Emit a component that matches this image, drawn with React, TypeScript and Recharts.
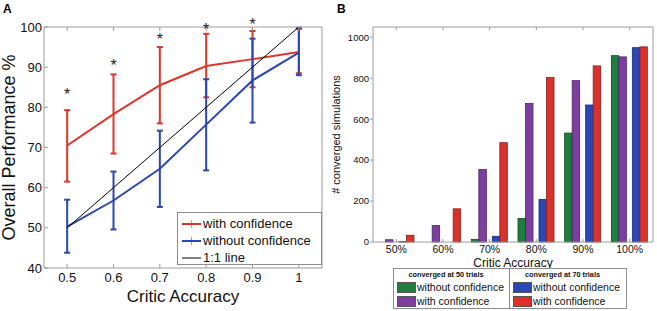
import React from "react";
import {
  ComposedChart,
  Line,
  ErrorBar,
  ReferenceDot,
  BarChart,
  Bar,
  XAxis,
  YAxis,
  Label,
  Legend,
} from "recharts";

const FONT = "'Liberation Sans', Arial, sans-serif";

// panel A
const accuracy = [0.5, 0.6, 0.7, 0.8, 0.9, 1];
const withConfMean = [70.5, 78.3, 85.5, 90.3, 92.0, 93.8];
const withConfLow = [61.5, 68.5, 76.0, 82.5, 85.0, 88.5];
const withConfHigh = [79.3, 88.2, 95.0, 98.3, 99.0, 99.5];
const noConfMean = [50.3, 56.8, 64.7, 75.7, 86.7, 93.6];
const noConfLow = [43.8, 49.6, 55.2, 64.3, 76.2, 88.0];
const noConfHigh = [57.0, 64.0, 74.2, 87.0, 97.1, 99.8];
const unityLine = [50, 60, 70, 80, 90, 100];
const starLevel = [84.1, 91.4, 97.8, 100.3, 101.6];
const perfTicks = [40, 50, 60, 70, 80, 90, 100];

// panel B
const accLabels = ["50%", "60%", "70%", "80%", "90%", "100%"];
const noConf50 = [0, 0, 13, 115, 532, 910];
const conf50 = [11, 80, 354, 676, 788, 904];
const noConf70 = [3, 0, 28, 208, 669, 949];
const conf70 = [33, 162, 485, 803, 860, 953];
const countTicks = [0, 200, 400, 600, 800, 1000];

const perfData = accuracy.map((acc, i) => ({
  acc,
  withConf: withConfMean[i],
  withConfErr: [withConfMean[i] - withConfLow[i], withConfHigh[i] - withConfMean[i]],
  noConf: noConfMean[i],
  noConfErr: [noConfMean[i] - noConfLow[i], noConfHigh[i] - noConfMean[i]],
  unity: unityLine[i],
}));

const countData = accLabels.map((acc, i) => ({
  acc,
  noConf50: noConf50[i],
  conf50: conf50[i],
  noConf70: noConf70[i],
  conf70: conf70[i],
}));

const RED = "#e0352b";
const BLUE = "#2b46b4";
const FRAME = "#9c9c9c";

// legend keeps the plotting order, not the alphabetical one
const inOrder = (payload: any[], keys: string[]) =>
  keys.map((k) => payload.find((p) => p.dataKey === k)).filter(Boolean);

const Star = (props: any) => (
  <text x={props.cx} y={props.cy + 9} textAnchor="middle" fontSize={16} fontFamily={FONT} fill="#222">
    *
  </text>
);

const perfLegend = (props: any) => {
  const items = inOrder(props.payload || [], ["withConf", "noConf", "unity"]);
  return (
    <div
      style={{
        width: 145,
        height: 53,
        boxSizing: "border-box",
        border: "1px solid #8c8c8c",
        background: "#fff",
        padding: "2px 0 0 4px",
        fontFamily: FONT,
        fontSize: 13,
        color: "#111",
      }}
    >
      {items.map((it: any) => (
        <div key={it.value} style={{ display: "flex", alignItems: "center", height: 17 }}>
          <svg width={20} height={10} style={{ marginRight: 1 }}>
            <line x1={0} y1={5} x2={19} y2={5} stroke={it.color} strokeWidth={it.color === "#000" ? 1 : 2} />
            {it.color !== "#000" && <line x1={9.5} y1={1} x2={9.5} y2={9} stroke={it.color} strokeWidth={1} opacity={0.5} />}
          </svg>
          <span style={{ lineHeight: "17px" }}>{it.value}</span>
        </div>
      ))}
    </div>
  );
};

function PanelA() {
  return (
    <ComposedChart width={330} height={311} data={perfData} margin={{ top: 26, right: 7, bottom: 0, left: 0 }}>
      <XAxis
        dataKey="acc"
        type="number"
        domain={[0.45, 1.05]}
        ticks={accuracy}
        height={43}
        stroke={FRAME}
        tickSize={-4}
        tickMargin={9}
        tick={{ fill: "#111", fontSize: 13, fontFamily: FONT }}
      >
        <Label value="Critic Accuracy" position="insideBottom" offset={9} style={{ fontSize: 17, fontFamily: FONT, fill: "#111" }} />
      </XAxis>
      <XAxis
        xAxisId="top"
        dataKey="acc"
        type="number"
        orientation="top"
        domain={[0.45, 1.05]}
        ticks={accuracy}
        height={1}
        stroke={FRAME}
        tickSize={-4}
        tick={() => <g />}
      />
      <YAxis
        type="number"
        domain={[40, 100]}
        ticks={perfTicks}
        width={44}
        stroke={FRAME}
        tickSize={-4}
        tickMargin={6}
        tick={{ fill: "#111", fontSize: 13, fontFamily: FONT }}
      >
        <Label
          value="Overall Performance %"
          angle={-90}
          position="insideLeft"
          offset={9}
          style={{ textAnchor: "middle", fontSize: 18, fontFamily: FONT, fill: "#111" }}
        />
      </YAxis>
      <YAxis
        yAxisId="right"
        orientation="right"
        type="number"
        domain={[40, 100]}
        ticks={perfTicks}
        width={1}
        stroke={FRAME}
        tickSize={-4}
        tick={() => <g />}
      />
      <Line dataKey="withConf" name="with confidence" stroke={RED} strokeWidth={2} dot={false} isAnimationActive={false}>
        <ErrorBar dataKey="withConfErr" width={3} stroke={RED} strokeWidth={2} isAnimationActive={false} />
      </Line>
      <Line dataKey="noConf" name="without confidence" stroke={BLUE} strokeWidth={2} dot={false} isAnimationActive={false}>
        <ErrorBar dataKey="noConfErr" width={3} stroke={BLUE} strokeWidth={2} isAnimationActive={false} />
      </Line>
      <Line dataKey="unity" name="1:1 line" stroke="#000" strokeWidth={1} dot={false} isAnimationActive={false} />
      {starLevel.map((v, i) => (
        <ReferenceDot key={i} x={accuracy[i]} y={v} ifOverflow="visible" shape={Star} />
      ))}
      <Legend
        layout="horizontal"
        verticalAlign="middle"
        align="center"
        content={perfLegend}
        wrapperStyle={{ left: 177, top: 212, width: 145, height: 53 }}
      />
    </ComposedChart>
  );
}

const barShape = (shift: number, edge: string) => (props: any) => {
  const { x, y, width, height, fill } = props;
  if (!height || height <= 0) return <g />;
  return <rect x={x + shift} y={y} width={width} height={height} fill={fill} stroke={edge} strokeWidth={0.8} />;
};

const countLegend = (props: any) => {
  const items = inOrder(props.payload || [], ["noConf50", "conf50", "noConf70", "conf70"]);
  const groups = [
    { title: "converged at 50 trials", items: items.slice(0, 2), width: 116 },
    { title: "converged at 70 trials", items: items.slice(2, 4), width: 118 },
  ];
  return (
    <div
      style={{
        display: "flex",
        width: 234,
        height: 41,
        boxSizing: "border-box",
        border: "1px solid #8c8c8c",
        background: "#fff",
        fontFamily: FONT,
        color: "#111",
      }}
    >
      {groups.map((g, gi) => (
        <div
          key={g.title}
          style={{
            width: g.width,
            boxSizing: "border-box",
            borderLeft: gi ? "1px solid #8c8c8c" : "none",
            padding: "1px 0 0 3px",
          }}
        >
          <div style={{ fontSize: 7.3, fontWeight: "bold", lineHeight: "10px", textAlign: "center", paddingRight: 14 }}>
            {g.title}
          </div>
          {g.items.map((it: any) => (
            <div key={it.dataKey} style={{ display: "flex", alignItems: "center", height: 14 }}>
              <div style={{ width: 17, height: 9, background: it.color, border: "0.5px solid #555", marginRight: 1 }} />
              <span style={{ fontSize: 10.5, lineHeight: "14px" }}>{it.value}</span>
            </div>
          ))}
        </div>
      ))}
    </div>
  );
};

function PanelB() {
  return (
    <BarChart
      width={327}
      height={311}
      data={countData}
      margin={{ top: 26, right: 3, bottom: 0, left: 0 }}
      barGap={0}
    >
      <XAxis
        dataKey="acc"
        height={69}
        stroke={FRAME}
        tickSize={-3}
        tickMargin={7}
        tick={{ fill: "#111", fontSize: 10.5, fontFamily: FONT }}
      >
        <Label value="Critic Accuracy" position="insideBottom" offset={44} style={{ fontSize: 12, fontFamily: FONT, fill: "#111" }} />
      </XAxis>
      <XAxis xAxisId="top" dataKey="acc" orientation="top" height={1} stroke={FRAME} tickSize={-3} tick={() => <g />} />
      <YAxis
        type="number"
        domain={[0, 1050]}
        ticks={countTicks}
        width={43}
        stroke={FRAME}
        tickSize={3}
        tickMargin={1}
        tick={{ fill: "#111", fontSize: 9.5, fontFamily: FONT }}
      >
        <Label
          value="# converged simulations"
          angle={-90}
          position="insideLeft"
          offset={6}
          style={{ textAnchor: "middle", fontSize: 11, fontFamily: FONT, fill: "#111" }}
        />
      </YAxis>
      <YAxis
        yAxisId="right"
        orientation="right"
        type="number"
        domain={[0, 1050]}
        ticks={countTicks}
        width={1}
        stroke={FRAME}
        tickSize={-3}
        tick={() => <g />}
      />
      <Bar dataKey="noConf50" name="without confidence" fill="#1f7d3d" barSize={7.5} shape={barShape(-3, "#0f4a22")} isAnimationActive={false} />
      <Bar dataKey="conf50" name="with confidence" fill="#7c3f9f" barSize={7.5} shape={barShape(-3, "#4a2363")} isAnimationActive={false} />
      <Bar dataKey="noConf70" name="without confidence" fill="#2b47b6" barSize={7.5} shape={barShape(3, "#172a72")} isAnimationActive={false} />
      <Bar dataKey="conf70" name="with confidence" fill="#d9322a" barSize={7.5} shape={barShape(3, "#84201a")} isAnimationActive={false} />
      <Legend
        layout="horizontal"
        verticalAlign="middle"
        align="center"
        content={countLegend}
        wrapperStyle={{ left: 63, top: 268, width: 234, height: 41 }}
      />
    </BarChart>
  );
}

export default function App() {
  return (
    <div style={{ position: "absolute", left: 0, top: 0, width: 657, height: 311, background: "#fff", fontFamily: FONT }}>
      <div style={{ position: "absolute", left: 0, top: 0 }}>
        <PanelA />
      </div>
      <div style={{ position: "absolute", left: 330, top: 0 }}>
        <PanelB />
      </div>
      <div style={{ position: "absolute", left: 3, top: 3, fontSize: 12, lineHeight: "12px", fontWeight: "bold" }}>A</div>
      <div style={{ position: "absolute", left: 337, top: 3, fontSize: 12, lineHeight: "12px", fontWeight: "bold" }}>B</div>
    </div>
  );
}
